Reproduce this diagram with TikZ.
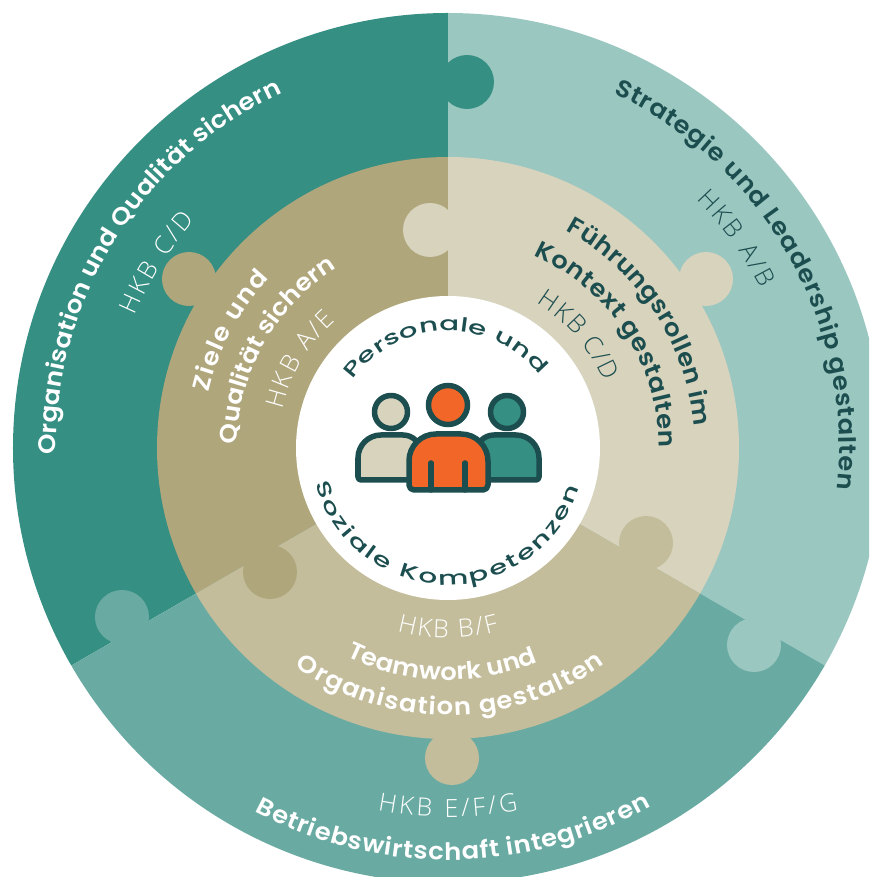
\documentclass[tikz,border=0pt]{standalone}
\usepackage{fontspec}
\usetikzlibrary{decorations.text}
\newfontfamily\titlefam[FakeStretch=1.08]{Poppins SemiBold}
\newfontfamily\hkbfam{Open Sans Light}
\newfontfamily\widefam[FakeStretch=1.5]{Poppins Medium}
\newcommand{\titlefont}{\titlefam\fontsize{24}{26}\selectfont}
\newcommand{\hkbfont}{\hkbfam\fontsize{25}{27}\selectfont}
\newcommand{\widefont}{\widefam\fontsize{19.5}{21}\selectfont}
\definecolor{outerleft}{HTML}{358F83}
\definecolor{outerright}{HTML}{9BC7C1}
\definecolor{outerbottom}{HTML}{69ABA2}
\definecolor{midleft}{HTML}{AFA67C}
\definecolor{midright}{HTML}{D8D3BD}
\definecolor{midbottom}{HTML}{C4BD9B}
\definecolor{darkteal}{HTML}{1C4E4F}
\definecolor{personorange}{HTML}{F26728}
\tikzset{
  knob/.style={radius=27},
  personline/.style={draw=darkteal,line width=5.5pt,line join=round,line cap=round}
}
\newcommand{\arclabel}[6]{\path[decorate,decoration={text along path,text color=#2,text align={fit to path},text={|#1|#6}}] (#4:#3) arc[start angle=#4,end angle=#5,radius=#3];}
\begin{document}
\begin{tikzpicture}[x=1pt,y=1pt]
\path[use as bounding box,clip] (-448,-429) rectangle (421,448);
\fill[outerleft] (0,0) -- (90:435) arc[start angle=90,end angle=210,radius=435] -- cycle;
\fill[outerright] (0,0) -- (90:435) arc[start angle=90,end angle=-30,radius=435] -- cycle;
\fill[outerbottom] (0,0) -- (210:435) arc[start angle=210,end angle=330,radius=435] -- cycle;
\fill[outerleft] (19,366) circle[knob];
\fill[outerbottom] (-326,-169) circle[knob];
\fill[outerright] (306,-197) circle[knob];
\fill[midleft] (0,0) -- (90:291) arc[start angle=90,end angle=210,radius=291] -- cycle;
\fill[midright] (0,0) -- (90:291) arc[start angle=90,end angle=-30,radius=291] -- cycle;
\fill[midbottom] (0,0) -- (210:291) arc[start angle=210,end angle=330,radius=291] -- cycle;
\fill[midright] (-18,218) circle[knob];
\fill[midright] (258,169) circle[knob];
\fill[midleft] (-259,169) circle[knob];
\fill[midleft] (-178,-124) circle[knob];
\fill[midbottom] (198,-95) circle[knob];
\fill[midbottom] (4,-310) circle[knob];
\fill[white] (0,0) circle[radius=152];
\arclabel{\titlefont}{white}{392}{181}{115}{Organisation und Qualität sichern}
\arclabel{\hkbfont}{white}{340}{157}{138}{HKB C/D}
\arclabel{\titlefont}{darkteal}{391}{65}{-6}{Strategie und Leadership gestalten}
\arclabel{\hkbfont}{darkteal}{351}{45}{27}{HKB A/B}
\arclabel{\titlefont}{darkteal}{247}{61.5}{5}{Führungsrollen im}
\arclabel{\titlefont}{darkteal}{211}{66}{0}{Kontext gestalten}
\arclabel{\hkbfont}{darkteal}{170}{58.5}{23}{HKB C/D}
\arclabel{\titlefont}{white}{246}{167}{136.5}{Ziele und}
\arclabel{\titlefont}{white}{211}{179}{122}{Qualität sichern}
\arclabel{\hkbfont}{white}{170}{167}{131.5}{HKB A/E}
\arclabel{\titlefont}{white}{412}{242}{299.5}{Betriebswirtschaft integrieren}
\arclabel{\hkbfont}{white}{369}{259}{281}{HKB E/F/G}
\arclabel{\hkbfont}{white}{190}{254.5}{285.5}{HKB B/F}
\arclabel{\titlefont}{white}{232}{244}{292.5}{Teamwork und}
\arclabel{\titlefont}{white}{267}{235}{306}{Organisation gestalten}
\arclabel{\widefont}{darkteal}{117}{144.5}{38.5}{Personale und}
\arclabel{\widefont}{darkteal}{137}{195}{343}{Soziale Kompetenzen}
\draw[personline,fill=midright] (-57,36) circle[radius=16.5];
\draw[personline,fill=outerleft] (59,36) circle[radius=16.5];
\draw[personline,fill=personorange] (0,43) circle[radius=19.5];
\draw[personline,fill=midright] (-90,-29) -- (-90,-10) arc[start angle=180,end angle=90,radius=23] -- (-45,13) arc[start angle=90,end angle=0,radius=18] -- (-27,-32) -- (-87,-32) arc[start angle=270,end angle=180,radius=3] -- cycle;
\draw[personline,fill=outerleft] (91,-29) -- (91,-10) arc[start angle=0,end angle=90,radius=23] -- (46,13) arc[start angle=90,end angle=180,radius=18] -- (28,-32) -- (88,-32) arc[start angle=-90,end angle=0,radius=3] -- cycle;
\draw[personline,fill=personorange] (-39,-37) -- (-39,-13) arc[start angle=180,end angle=90,radius=27] -- (13,14) arc[start angle=90,end angle=0,radius=27] -- (40,-37) arc[start angle=0,end angle=-90,radius=5] -- (-34,-42) arc[start angle=270,end angle=180,radius=5] -- cycle;
\draw[personline] (-17,-15) -- (-17,-42);
\draw[personline] (17,-15) -- (17,-42);
\end{tikzpicture}
\end{document}
